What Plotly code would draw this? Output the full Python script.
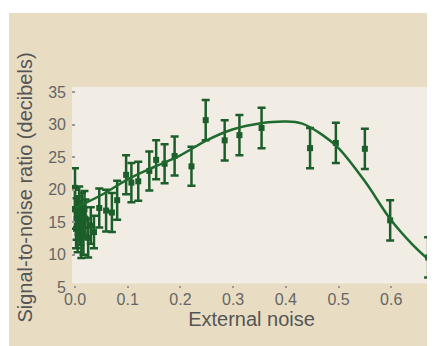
import plotly.graph_objects as go

# Measured data points (external noise, SNR in dB, error half-width)
noise_x = [0.000, 0.000, 0.002, 0.003, 0.005, 0.007, 0.008, 0.010, 0.012, 0.013, 0.016, 0.018,
           0.020, 0.025, 0.030, 0.036,
           0.046, 0.059, 0.070, 0.080, 0.097, 0.107, 0.120, 0.141, 0.154, 0.170, 0.189, 0.221,
           0.248, 0.284, 0.312, 0.354, 0.446, 0.495, 0.550, 0.598, 0.670]
snr_y = [20.3, 17.0, 14.0, 15.5, 13.4, 16.0, 18.0, 14.5, 12.5, 16.5, 13.0, 17.0,
         15.5, 12.6, 14.5, 13.5,
         17.2, 16.8, 16.5, 18.4, 22.3, 21.1, 21.3, 22.9, 24.6, 24.0, 25.2, 23.6,
         30.7, 27.6, 28.4, 29.5, 26.4, 27.2, 26.3, 15.3, 9.6]
snr_err = [3.0, 3.0, 3.0, 3.2, 3.0, 3.0, 2.5, 3.0, 3.0, 3.0, 3.0, 2.8,
           3.0, 3.0, 2.8, 2.5,
           3.0, 3.2, 3.0, 3.0, 3.0, 3.0, 3.0, 3.0, 3.0, 3.0, 3.0, 3.0,
           3.1, 3.1, 3.1, 3.1, 3.1, 3.1, 3.1, 3.1, 3.1]

# Fitted curve
fit_x = [0.0, 0.05, 0.1, 0.15, 0.2, 0.25, 0.3, 0.35, 0.4, 0.43, 0.47, 0.5, 0.55, 0.6, 0.64, 0.67]
fit_y = [17.2, 19.2, 21.6, 23.5, 25.3, 27.6, 29.3, 30.2, 30.5, 30.2, 28.4, 26.4, 21.3, 15.3, 11.6, 9.3]

x_ticks = [0.0, 0.1, 0.2, 0.3, 0.4, 0.5, 0.6]
x_labels = ["0.0", "0.1", "0.2", "0.3", "0.4", "0.5", "0.6"]
y_ticks = [5, 10, 15, 20, 25, 30, 35]

green = "#1c5e29"
beige = "#e8ddc3"
light = "#f2ede4"

fig = go.Figure()
fig.add_trace(go.Scatter(
    x=noise_x, y=snr_y, mode="markers",
    marker=dict(symbol="square", size=6, color=green),
    error_y=dict(type="data", array=snr_err, visible=True, color=green, thickness=2.5, width=4),
    showlegend=False, hoverinfo="skip", cliponaxis=False))
fig.add_trace(go.Scatter(
    x=fit_x, y=fit_y, mode="lines", line=dict(color="#1f6a2f", width=2.5, shape="spline"),
    showlegend=False, hoverinfo="skip"))

# page background panel and lighter plotting panel
fig.add_shape(type="rect", xref="paper", yref="paper", x0=-0.1755, x1=1.1, y0=-0.5, y1=1.368,
              fillcolor=beige, line=dict(width=0), layer="below")
fig.add_shape(type="rect", xref="paper", yref="y", x0=0, x1=1, y0=5.6, y1=35.8,
              fillcolor=light, line=dict(width=0), layer="below")

fig.update_layout(
    width=435, height=346,
    margin=dict(l=64, r=12, t=79, b=66),
    paper_bgcolor="white", plot_bgcolor="rgba(0,0,0,0)",
    font=dict(family="Liberation Sans, Arial, sans-serif", color="#666"),
)
fig.update_xaxes(
    range=[-0.0057, 0.6755], tickvals=x_ticks, ticktext=x_labels, automargin=False,
    ticks="inside", ticklen=2, tickwidth=2, tickcolor="#999",
    showgrid=False, zeroline=False, showline=False,
    tickfont=dict(size=16, color="#666"),
    title=dict(text="External noise", font=dict(size=20, color="#555"), standoff=0))
fig.update_yaxes(
    range=[4.9, 35.8], tickvals=y_ticks, automargin=False,
    ticks="inside", ticklen=3, tickwidth=1.5, tickcolor="#999",
    ticklabelstandoff=5,
    showgrid=False, zeroline=False, showline=False,
    tickfont=dict(size=16, color="#666"),
    title=dict(text="Signal-to-noise ratio (decibels)", font=dict(size=20, color="#555"), standoff=10))

fig.write_html("out.html")
